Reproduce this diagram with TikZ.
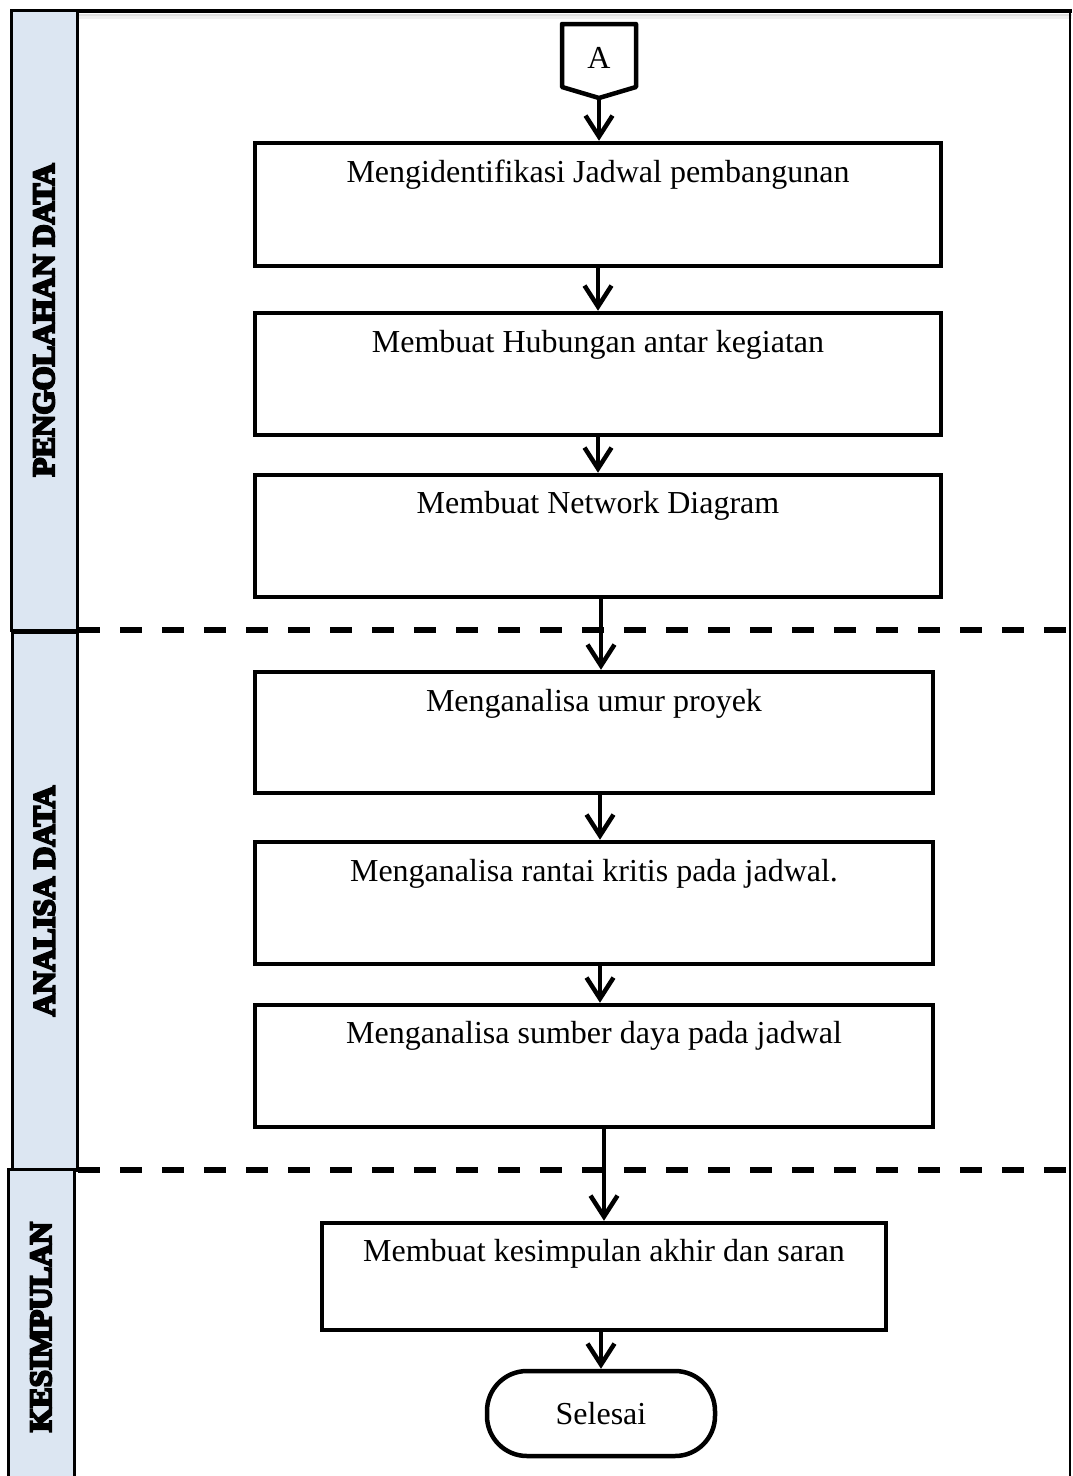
\documentclass[tikz,border=0pt]{standalone}
\usepackage{fontspec}
\setmainfont{Liberation Serif}
\newfontfamily\lanefont[BoldFeatures={FakeBold=7}]{Liberation Serif}
\usetikzlibrary{arrows.meta,calc}
\definecolor{lanefill}{HTML}{DCE6F2}
\begin{document}
\begin{tikzpicture}[x=1pt,y=-1pt,
  proc/.style={draw, line width=4.5pt, inner sep=0pt, minimum width=686pt},
  boxtext/.style={font=\fontsize{32}{38}\selectfont, inner sep=0pt},
  lane/.style={draw, line width=3pt, fill=lanefill, rotate=90, inner sep=0pt,
    minimum height=66pt, font=\lanefont\bfseries\fontsize{31}{36}\selectfont},
  flow/.style={line width=4.5pt, line cap=round, -{Straight Barb[length=21pt,width=27pt,line width=4.5pt]}},
  dashline/.style={line width=5.5pt, dash pattern=on 22pt off 20pt},
  endbox/.style={draw, line width=4.5pt, rounded corners=40pt, minimum width=228pt, minimum height=85pt,
    inner sep=0pt, font=\fontsize{32}{38}\selectfont}]
\useasboundingbox (0,0) rectangle (1072,1476);
\begin{scope}
\clip (0,0) rectangle (1072,1476);
% frame
\draw[line width=3pt, black!6] (10,17) -- (1072,17);
\draw[line width=2pt, black!12] (10,15) -- (1072,15);
\draw[line width=4pt] (10,11) -- (1072,11);
\draw[line width=2pt] (1070,11) -- (1070,1476);
% lanes
\node[lane, minimum width=620pt] (L1) at (44,320) {PENGOLAHAN DATA};
\node[lane, minimum width=538pt, minimum height=65pt] (L2) at (44.5,901) {ANALISA DATA};
\node[lane, minimum width=316pt] (L3) at (41,1327) {KESIMPULAN};
% dashed separators
\coordinate (d1a) at (78,630); \coordinate (d1b) at (1072,630);
\coordinate (d2a) at (78,1170); \coordinate (d2b) at (1072,1170);
\draw[dashline] (d1a) -- (d1b);
\draw[dashline] (d2a) -- (d2b);
\end{scope}
% connector A
\draw[line width=4.5pt, line join=round] (562,24) -- (636,24) -- (636,87) -- (599,98) -- (562,87) -- cycle;
\coordinate (Atip) at (599,98);
\node[boxtext] (A) at (599,58) {A};
% process boxes
\node[proc, minimum height=123pt] (b1) at (598,204.5) {};
\node[proc, minimum height=122pt] (b2) at (598,374) {};
\node[proc, minimum height=122pt] (b3) at (598,536) {};
\node[proc, minimum width=678pt, minimum height=121pt] (b4) at (594,732.5) {};
\node[proc, minimum width=678pt, minimum height=122pt] (b5) at (594,903) {};
\node[proc, minimum width=678pt, minimum height=122pt] (b6) at (594,1066) {};
\node[proc, minimum width=564pt, minimum height=107pt] (b7) at (604,1276.5) {};
\node[endbox] (sel) at (601,1413.5) {Selesai};
% texts
\node[boxtext] (t1) at ($(b1.north)+(0,34)$) {Mengidentifikasi Jadwal pembangunan};
\node[boxtext] (t2) at ($(b2.north)+(0,34)$) {Membuat Hubungan antar kegiatan};
\node[boxtext] (t3) at ($(b3.north)+(0,33)$) {Membuat Network Diagram};
\node[boxtext] (t4) at ($(b4.north)+(0,34)$) {Menganalisa umur proyek};
\node[boxtext] (t5) at ($(b5.north)+(0,34)$) {Menganalisa rantai kritis pada jadwal.};
\node[boxtext] (t6) at ($(b6.north)+(0,33)$) {Menganalisa sumber daya pada jadwal};
\node[boxtext] (t7) at ($(b7.north)+(0,33)$) {Membuat kesimpulan akhir dan saran};
% arrows
\draw[flow] (Atip) -- (Atip |- b1.north);
\draw[flow] (b1.south) -- (b1.south |- b2.north);
\draw[flow] (b2.south) -- (b2.south |- b3.north);
\draw[flow] ($(b3.south)+(3,0)$) -- ($(b3.south |- b4.north)+(3,0)$);
\draw[flow] ($(b4.south)+(6,0)$) -- ($(b4.south |- b5.north)+(6,0)$);
\draw[flow] ($(b5.south)+(6,0)$) -- ($(b5.south |- b6.north)+(6,0)$);
\draw[flow] (b7.north |- b6.south) -- (b7.north);
\draw[flow] (sel.north |- b7.south) -- (sel.north);
\end{tikzpicture}
\end{document}
